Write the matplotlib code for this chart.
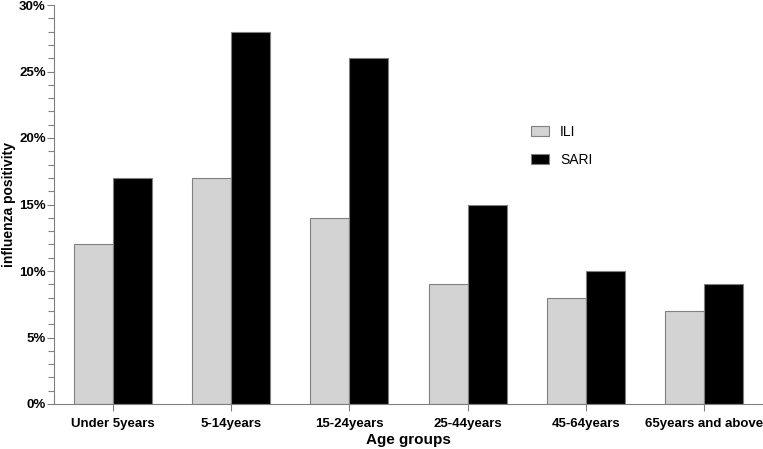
import matplotlib
matplotlib.use("Agg")
import matplotlib.pyplot as plt
import numpy as np
from matplotlib.ticker import MultipleLocator, FuncFormatter

plt.rcParams['font.family'] = ['Liberation Sans', 'DejaVu Sans']

categories = ["Under 5years", "5-14years", "15-24years", "25-44years", "45-64years", "65years and above"]
ili = [12, 17, 14, 9, 8, 7]
sari = [17, 28, 26, 15, 10, 9]

fig = plt.figure(figsize=(7.63, 4.49), dpi=100)
ax = fig.add_axes([54/763, 1-404/449, (763-54)/763, (404-5)/449])

x = np.arange(len(categories))
w = 0.33
ax.bar(x - w/2, ili, w, color='#d3d3d3', edgecolor='#808080', linewidth=0.8, label='ILI')
ax.bar(x + w/2, sari, w, color='black', edgecolor='#808080', linewidth=0.8, label='SARI')

ax.set_xlim(-0.5, 5.5)
ax.set_ylim(0, 30)
ax.yaxis.set_major_locator(MultipleLocator(5))
ax.yaxis.set_minor_locator(MultipleLocator(1))
ax.yaxis.set_major_formatter(FuncFormatter(lambda v, p: f"{int(v)}%"))
ax.set_xticks(x)
ax.set_xticklabels(categories, fontsize=9.5, fontweight='bold')
for lab in ax.get_yticklabels():
    lab.set_fontweight('bold')
    lab.set_fontsize(9.5)

for s in ['top', 'right']:
    ax.spines[s].set_visible(False)
for s in ['left', 'bottom']:
    ax.spines[s].set_color('#808080')
    ax.spines[s].set_linewidth(0.8)
ax.tick_params(axis='both', which='major', color='#808080', length=5, width=0.8)
ax.tick_params(axis='y', which='major', pad=1)
ax.tick_params(axis='x', which='major', pad=5)
ax.tick_params(axis='y', which='minor', color='#808080', length=4, width=0.8)

ax.set_xlabel("Age groups", fontsize=11, fontweight='bold', labelpad=2)
ax.set_ylabel("influenza positivity", fontsize=10, fontweight='bold', labelpad=2)

ax.legend(loc='upper left', bbox_to_anchor=(0.655, 0.73), frameon=False, fontsize=10,
          handlelength=1.3, handleheight=0.75, labelspacing=1.0, handletextpad=0.8)

fig.savefig("out.png", dpi=100)
